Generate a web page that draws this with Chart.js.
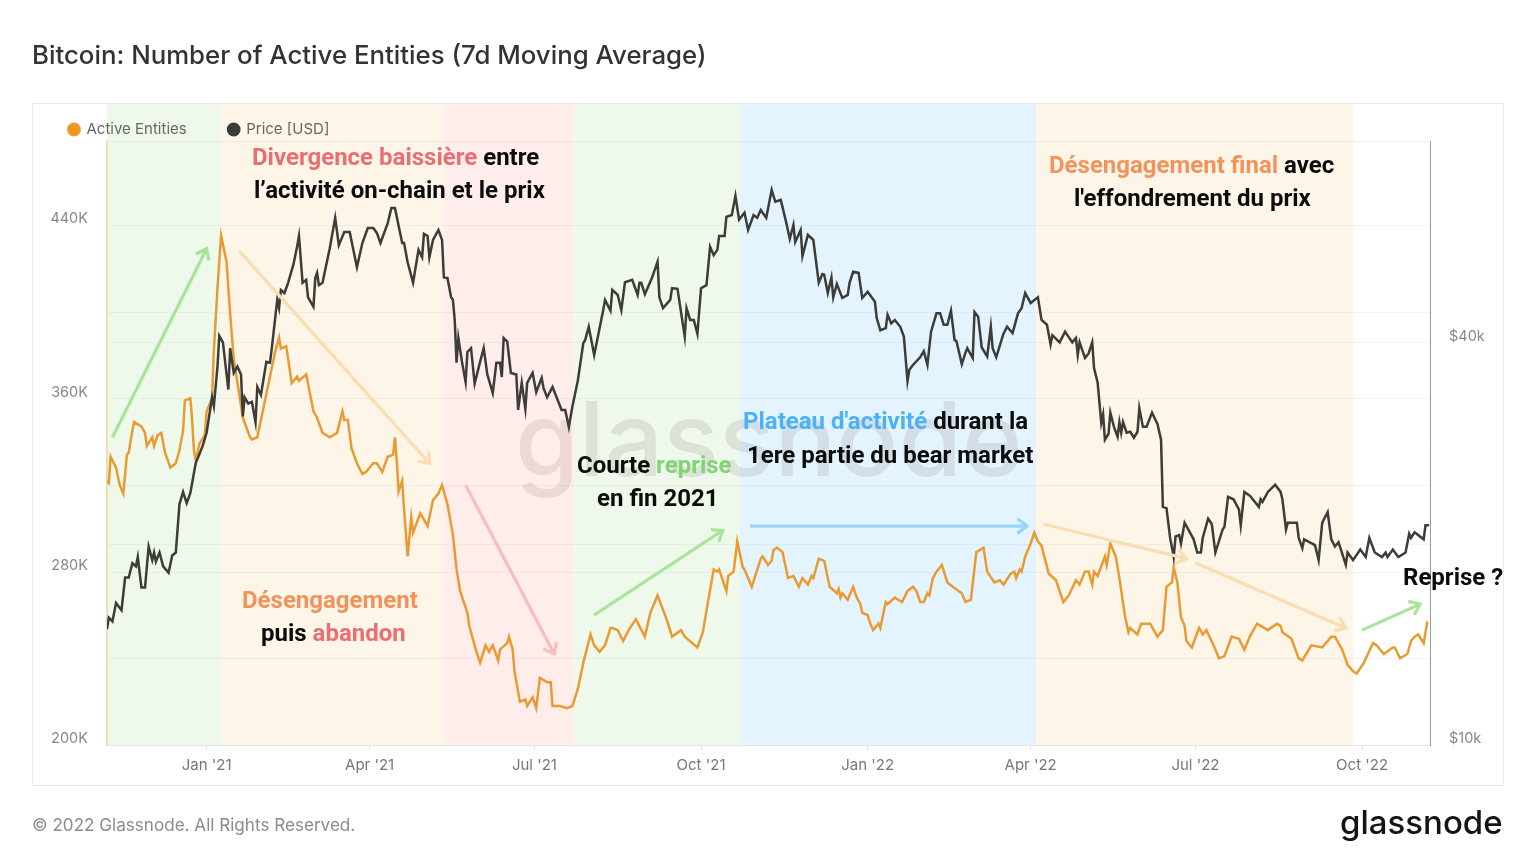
<!DOCTYPE html>
<html><head><meta charset="utf-8">
<style>html,body{margin:0;padding:0;background:#fff}canvas{display:block}</style>
<script src="https://cdn.jsdelivr.net/npm/chart.js@4"></script>
</head><body><canvas id="c" width="1536" height="864"></canvas>
<script>
// Days counted from 1 Jan 2021
const entityDays=[-55,-54,-53,-50,-48,-46,-44,-43,-41,-40,-36,-34,-33,-30,-29,-27,-25,-23,-20,-17,-15,-13,-12,-9,-8,-7,-6,-4,-1,0,3,4,6,8,11,13,15,18,20,24,25,28,31,35,38,40,41,44,47,50,51,55,59,61,64,68,72,75,76,78,80,83,86,88,92,94,97,100,103,104,105,106,108,109,111,113,114,118,122,125,128,130,133,136,138,140,144,145,149,151,154,156,158,161,162,166,167,169,170,173,176,177,180,182,184,188,190,191,195,199,202,205,208,212,214,217,220,223,224,227,230,233,237,242,245,249,254,257,262,264,271,274,276,280,282,283,287,288,291,293,296,297,301,306,307,310,312,313,315,318,321,324,327,329,332,334,335,338,341,344,348,349,350,351,354,357,359,361,362,365,366,368,371,372,375,376,380,384,387,390,392,394,396,398,399,401,403,406,409,412,417,419,422,425,429,431,435,438,440,444,446,447,449,450,452,455,457,459,461,465,469,473,476,480,482,485,487,489,490,492,496,497,499,502,504,507,509,510,514,516,521,525,528,530,533,534,536,538,540,541,544,548,550,552,556,559,562,566,570,573,576,580,586,591,593,594,599,603,605,610,616,621,623,627,630,633,635,639,644,646,650,655,656,659,663,665,667,669,672,674];
const entityValues=[322,321,333,328,320,316,334,335,345,349,347,344,338,342,338,343,344,335,328,330,336,345,359,360,350,336,331,339,343,354,360,382,411,435,423,399,378,362,351,342,341,342,354,370,382,388,383,384,367,370,368,371,354,351,344,342,344,354,350,350,337,330,325,326,330,330,326,333,334,342,331,317,322,309,287,305,298,307,301,313,316,320,311,297,281,271,261,255,243,238,246,243,246,239,244,247,250,244,234,220,221,218,222,217,231,229,229,218,218,217,218,226,238,251,246,243,246,254,254,253,248,253,258,250,261,269,258,250,253,250,245,252,262,281,280,281,271,278,280,294,282,281,273,286,287,283,285,290,291,289,277,278,273,277,274,278,277,286,285,273,270,272,268,270,267,273,268,265,261,260,257,253,256,254,266,265,268,266,271,273,271,266,266,270,269,277,280,283,275,273,270,266,267,289,291,280,275,276,274,279,280,277,281,280,287,293,298,294,292,279,276,266,269,276,274,280,280,274,280,278,287,283,293,287,277,260,252,254,251,256,256,250,253,273,275,282,275,259,255,248,245,254,251,253,246,240,241,250,249,244,250,256,253,256,255,252,249,240,239,246,245,250,250,244,237,234,233,238,247,246,242,245,245,240,242,248,250,251,247,257];
const priceDays=[-55,-54,-52,-50,-47,-45,-43,-41,-39,-38,-36,-34,-32,-30,-29,-28,-26,-24,-21,-19,-17,-15,-13,-11,-9,-6,-4,-2,0,3,4,6,7,9,12,13,15,17,19,20,21,23,25,27,28,30,33,35,36,39,40,41,43,45,48,50,51,53,55,56,59,60,61,62,64,68,71,73,76,79,83,86,89,92,94,96,100,102,104,108,109,111,114,117,119,120,122,123,125,128,130,131,133,135,136,137,138,139,141,143,144,146,148,151,153,155,158,160,162,163,164,166,168,171,172,174,176,177,180,182,185,186,188,191,196,198,200,202,205,208,209,211,214,219,220,223,224,227,229,231,235,238,239,240,242,246,249,250,252,256,257,260,264,265,267,269,271,273,276,278,280,282,283,286,287,290,292,294,297,299,302,304,306,309,312,314,317,320,322,324,325,328,329,332,335,338,340,341,343,345,346,348,351,354,355,357,360,362,365,369,370,372,375,376,378,380,383,385,387,388,390,394,396,398,400,403,405,407,409,411,413,414,417,419,420,423,424,426,428,431,433,434,436,440,442,445,448,450,452,455,459,461,464,466,467,471,474,478,480,481,482,485,487,489,490,492,494,495,496,498,499,501,503,504,505,506,508,510,512,514,515,517,519,522,525,527,528,530,532,534,535,537,538,540,545,547,549,550,553,555,557,561,562,564,567,570,571,573,576,581,582,583,586,590,593,594,596,597,602,603,605,606,612,614,616,619,621,623,625,629,630,633,637,640,642,645,649,651,652,655,658,662,664,665,667,672,673,675];
const priceValues=[14900,15500,15300,16300,15900,17800,17800,18700,18500,19100,17200,17200,19800,18900,19400,18800,19400,18500,18100,19200,19400,22900,23900,23000,23800,26400,27200,28100,29300,33100,32100,36800,40900,40000,34000,39200,36000,36800,35800,31000,33100,32400,32600,30400,34300,33400,37400,37300,39200,46300,45000,47900,47400,49100,52400,55700,57700,49100,49600,46700,45200,49900,50800,48700,49100,55300,61400,55900,58500,58500,51800,56300,59300,59300,58300,56300,60300,63500,63500,56300,56300,52700,49100,55000,53600,58100,57700,53600,56900,58900,56900,50000,49900,46700,46300,43200,37300,40600,37400,34900,38700,39200,34700,37400,39200,35800,33600,37300,37300,35500,40600,40100,36000,35800,31700,34800,31800,34800,36000,33700,35400,34200,33100,34300,31700,31700,29900,32100,35100,39900,40300,42200,38300,44700,46300,44600,47900,47100,44700,49200,49600,47100,49100,49100,47200,50000,52800,46700,45000,46300,48200,48100,40800,45000,43200,43200,41200,48200,48700,55600,54000,55000,57700,57700,61600,62000,66200,61000,62500,58900,62000,61400,63100,61400,67600,64900,65300,60500,57100,59900,56500,58900,53800,57900,56900,49100,50600,50500,47400,50000,46700,48900,46600,47100,49100,51000,50800,46600,47600,46000,43500,41700,42000,44000,42700,43200,42200,40800,35000,36400,37000,38000,38800,37000,41500,44200,44200,42500,42500,44600,40300,40200,37100,38600,39200,37900,44400,43700,39300,38100,42200,39200,38000,41200,42200,41300,44200,45000,47400,45800,46700,43200,42500,39700,41000,40000,41500,40000,40600,38300,40000,37900,38500,40000,36600,34800,30300,31200,28600,29200,31400,29900,28900,30400,29300,30400,29300,29400,28800,29400,31900,29900,29900,31400,30200,28600,22700,22600,20400,19100,20500,20600,20000,21500,20300,19400,19400,20400,21800,21400,19400,21000,21200,23500,23300,22500,21300,23900,23600,22700,23300,23100,23900,24500,23900,23300,21000,21500,21500,20400,19700,20300,19900,18900,21500,22300,20300,19800,20100,18600,19400,18900,19600,19100,20400,19400,19100,19400,19100,19600,19100,19400,20700,20400,20800,20300,21300,21300];

const xTickDays=[0,90,181,273,365,455,546,638];
const xTickLabels=["Jan '21","Apr '21","Jul '21","Oct '21","Jan '22","Apr '22","Jul '22","Oct '22"];
const leftTicks=[200,240,280,320,360,400,440];
const leftLabelled=[200,280,360,440];
const rightTicks=[10000,20000,40000,80000];
const rightLabelled=[10000,40000];

// Shaded regimes: start day, end day, colour
const bandStarts=[-55,8,131,203,294.5,458];
const bandEnds=[8,131,203,294.5,458,633];
const bandColors=["#EEF9EB","#FEF5E9","#FFEDEC","#EEF9EB","#E4F4FE","#FEF5E9"];

// Arrows in chart values (day, Active Entities)
const arrowFromDay=[-52,18,143,214,300,462,546,638];
const arrowFromVal=[342,428,320,260,301,302,284,253];
const arrowToDay=[0,123,192,285,453,541,629,670];
const arrowToVal=[429,330,242,299,301,286,254,265];
const arrowColors=["#A9E49B","#FBDDB2","#F9BDBD","#A9E49B","#9AD4F8","#FBDDB2","#FBDDB2","#A9E49B"];

const RED="#E96F72",ORG="#F0945B",GRN="#80D474",BLU="#4DB2F5",BLK="#0c0c0c";
const notes=[
 {x:252,y:159,runs:[["Divergence baissière",RED],[" entre",BLK]]},
 {x:254,y:192,runs:[["l’activité on-chain et le prix",BLK]]},
 {x:242,y:602,runs:[["Désengagement",ORG]]},
 {x:261,y:635,runs:[["puis ",BLK],["abandon",RED]]},
 {x:577,y:467,runs:[["Courte ",BLK],["reprise",GRN]]},
 {x:597,y:500,runs:[["en fin 2021",BLK]]},
 {x:743,y:423,runs:[["Plateau d'activité",BLU],[" durant la",BLK]]},
 {x:747,y:457,runs:[["1ere partie du bear market",BLK]]},
 {x:1049,y:167,runs:[["Désengagement final",ORG],[" avec",BLK]]},
 {x:1074,y:200,runs:[["l'effondrement du prix",BLK]]},
 {x:1403,y:579,runs:[["Reprise ?",BLK]]}
];
const FRAME={l:32,t:103,r:1503,b:785};

const pairs=(xs,ys)=>xs.map((x,i)=>({x,y:ys[i]}));

const decor={
 id:'decor',
 afterLayout(ch){ if(ch.legend){ch.legend.left=27;ch.legend.top=80;ch.legend.right=800;} },
 beforeDraw(ch){
  const c=ch.ctx,x=ch.scales.x,a=ch.chartArea;
  c.save();
  bandStarts.forEach((s,i)=>{
   const x0=x.getPixelForValue(s),x1=x.getPixelForValue(bandEnds[i]);
   c.fillStyle=bandColors[i];
   c.fillRect(x0,FRAME.t,x1-x0,a.bottom-FRAME.t);
  });
  c.fillStyle='rgba(110,95,95,0.14)';
  c.font='500 103px Inter';
  c.textBaseline='alphabetic';c.textAlign='left';
  c.fillText('glassnode',515,476);
  c.strokeStyle='rgba(120,120,120,0.08)';c.lineWidth=1;
  const gl=(py)=>{c.beginPath();c.moveTo(a.left,Math.round(py)+.5);c.lineTo(a.right,Math.round(py)+.5);c.stroke();};
  leftTicks.forEach(v=>gl(ch.scales.yL.getPixelForValue(v)));
  rightTicks.forEach(v=>gl(ch.scales.yR.getPixelForValue(v)));
  c.restore();
 },
 afterDatasetsDraw(ch){
  const c=ch.ctx,x=ch.scales.x,y=ch.scales.yL;
  c.save();
  arrowFromDay.forEach((d,i)=>{
   const x0=x.getPixelForValue(d),y0=y.getPixelForValue(arrowFromVal[i]);
   const x1=x.getPixelForValue(arrowToDay[i]),y1=y.getPixelForValue(arrowToVal[i]);
   const t=Math.atan2(y1-y0,x1-x0),h=12;
   c.strokeStyle=arrowColors[i];c.lineWidth=3.2;c.lineCap='butt';c.lineJoin='miter';
   c.beginPath();c.moveTo(x0,y0);c.lineTo(x1,y1);c.stroke();
   c.beginPath();
   c.moveTo(x1-h*Math.cos(t-0.65),y1-h*Math.sin(t-0.65));
   c.lineTo(x1,y1);
   c.lineTo(x1-h*Math.cos(t+0.65),y1-h*Math.sin(t+0.65));
   c.stroke();
  });
  c.font='700 24px Roboto';c.textBaseline='middle';c.textAlign='left';
  notes.forEach(n=>{
   let px=n.x;
   n.runs.forEach(([t,col])=>{c.fillStyle=col;c.fillText(t,px,n.y);px+=c.measureText(t).width;});
  });
  c.textBaseline='alphabetic';
  c.fillStyle='#333';c.font='500 25.8px Inter';
  c.fillText('Bitcoin: Number of Active Entities (7d Moving Average)',32,64);
  c.fillStyle='#8b8b8b';c.font='400 17.1px Inter';
  c.fillText('© 2022 Glassnode. All Rights Reserved.',32,831);
  c.fillStyle='#141414';c.font='500 33px Inter';
  c.fillText('glassnode',1340,834);
  c.strokeStyle='#e9e9e9';c.lineWidth=1;
  c.strokeRect(FRAME.l+.5,FRAME.t+.5,FRAME.r-FRAME.l,FRAME.b-FRAME.t);
  c.restore();
 }
};

new Chart(document.getElementById('c'),{
 type:'line',
 plugins:[decor],
 data:{datasets:[
  {label:'Active Entities',data:pairs(entityDays,entityValues),yAxisID:'yL',order:2,
   borderColor:'#E89B33',backgroundColor:'#F7931A',borderWidth:2.5,pointRadius:0,tension:0},
  {label:'Price [USD]',data:pairs(priceDays,priceValues),yAxisID:'yR',order:1,
   borderColor:'#3C3C38',backgroundColor:'#3C3C38',borderWidth:2.5,pointRadius:0,tension:0}
 ]},
 options:{
  responsive:false,animation:false,devicePixelRatio:1,
  layout:{padding:{top:140,left:0,right:0,bottom:0}},
  interaction:{mode:null},
  plugins:{
   title:{display:false},tooltip:{enabled:false},
   legend:{display:true,position:'top',align:'start',maxHeight:1,
    labels:{usePointStyle:true,pointStyle:'circle',boxWidth:10,boxHeight:8,padding:42,color:'#666',font:{family:'Inter',size:15},
     sort:(a,b)=>a.datasetIndex-b.datasetIndex}}
  },
  scales:{
   x:{type:'linear',min:-55,max:675.5,
    afterFit(s){s.height=119;},
    afterBuildTicks(s){s.ticks=xTickDays.map(v=>({value:v}));},
    grid:{display:true,drawOnChartArea:false,drawTicks:true,tickLength:5,color:'#e3e3e3'},
    border:{color:'#e6e6e6'},
    ticks:{autoSkip:false,maxRotation:0,padding:6,color:'#777',font:{family:'Inter',size:15},
     callback:v=>xTickLabels[xTickDays.indexOf(v)]||''}
   },
   yL:{type:'linear',position:'left',min:200,max:478.7,
    afterFit(s){s.width=107;},
    afterBuildTicks(s){s.ticks=leftTicks.map(v=>({value:v}));},
    grid:{drawOnChartArea:false,drawTicks:false},
    border:{color:'#F0DDB8',width:2},
    ticks:{autoSkip:false,padding:19,labelOffset:-6,color:'#888',font:{family:'Inter',size:14.5},
     callback:v=>leftLabelled.includes(v)?v+'K':''}
   },
   yR:{type:'logarithmic',position:'right',min:10000,max:80000,
    afterFit(s){s.width=106;},
    afterBuildTicks(s){s.ticks=rightTicks.map(v=>({value:v}));},
    grid:{drawOnChartArea:false,drawTicks:false},
    border:{color:'#9a9a9a',width:1},
    ticks:{autoSkip:false,padding:19,labelOffset:-6,color:'#888',font:{family:'Inter',size:14.5},
     callback:v=>rightLabelled.includes(v)?'$'+(v/1000)+'k':''}
   }
  }
 }
});
</script></body></html>
